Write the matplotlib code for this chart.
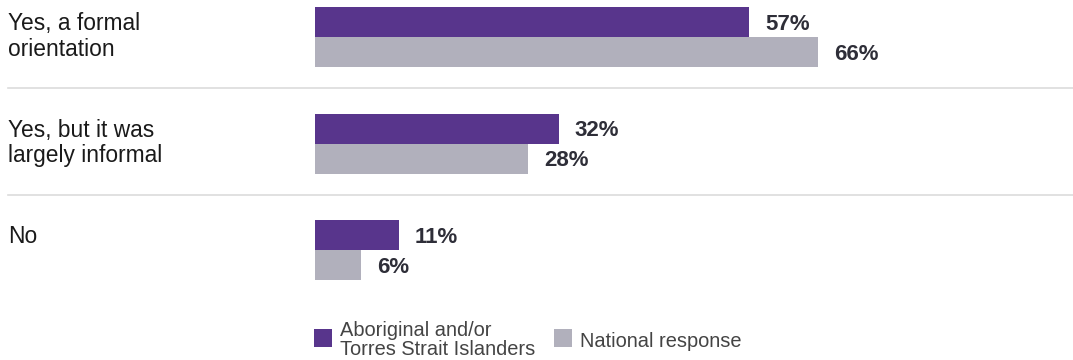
import matplotlib
matplotlib.use("Agg")
import matplotlib.pyplot as plt
from matplotlib.patches import Rectangle
import numpy as np

plt.rcParams['font.family'] = ['Liberation Sans', 'DejaVu Sans']

categories = ["Yes, a formal\norientation", "Yes, but it was\nlargely informal", "No"]
series_names = ["Aboriginal and/or\nTorres Strait Islanders", "National response"]
aboriginal = [57, 32, 11]
national = [66, 28, 6]

PURPLE = "#58358C"
GREY = "#B1B0BC"

W, H, DPI = 1073, 360, 100
fig = plt.figure(figsize=(W / DPI, H / DPI), dpi=DPI)
ax = fig.add_axes([0, 0, 1, 1])
ax.set_axis_off()

px_per_pct = 7.62
x0_px = 315
ax.set_xlim(-x0_px / px_per_pct, (W - x0_px) / px_per_pct)
group_px = 106.5
top_px = 37
ax.set_ylim((H - top_px) / group_px, -top_px / group_px)

bar_h = 30 / group_px
y = np.arange(len(categories))

b1 = ax.barh(y - bar_h / 2, aboriginal, height=bar_h, color=PURPLE, edgecolor="none")
b2 = ax.barh(y + bar_h / 2, national, height=bar_h, color=GREY, edgecolor="none")

pt = 72 / DPI  # points per pixel
for bars, vals in ((b1, aboriginal), (b2, national)):
    for rect, v in zip(bars, vals):
        cy = rect.get_y() + rect.get_height() / 2
        ax.annotate(f"{v}%", xy=(rect.get_width(), cy), xytext=(16 * pt, -8 * pt),
                    textcoords="offset points", ha="left", va="baseline",
                    fontsize=16, fontweight="bold", color="#2E2E38")

# category labels
for i, cat in enumerate(categories):
    ax.annotate(cat, xy=(8 / W, i), xycoords=("axes fraction", "data"),
                xytext=(0, 25 * pt), textcoords="offset points",
                ha="left", va="top", fontsize=16.4, color="#1A1A1A",
                linespacing=1.14)

# separators
for i in range(len(categories) - 1):
    ax.axhline(i + 0.48, xmin=8 / W, xmax=1, color="#DCDCDC", lw=1.2)

# legend (manual)
leg_items = [(PURPLE, series_names[0], 314), (GREY, series_names[1], 554)]
for color, label, xpx in leg_items:
    fig.patches.append(Rectangle((xpx / W, 1 - 347 / H), 18 / W, 18 / H,
                                 transform=fig.transFigure, facecolor=color,
                                 edgecolor="none"))
fig.text(340 / W, 1 - 336 / H, series_names[0].split("\n")[0], ha="left",
         va="baseline", fontsize=14.4, color="#444444")
fig.text(340 / W, 1 - 355 / H, series_names[0].split("\n")[1], ha="left",
         va="baseline", fontsize=14.4, color="#444444")
fig.text(580 / W, 1 - 347 / H, series_names[1], ha="left", va="baseline",
         fontsize=14.4, color="#444444")

fig.savefig("out.png", dpi=DPI)
